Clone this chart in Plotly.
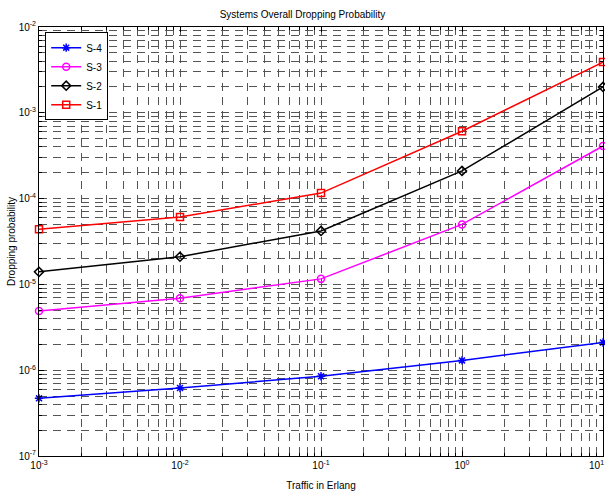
import plotly.graph_objects as go

traffic = [1e-3, 1e-2, 1e-1, 1, 10]
s4 = [4.7e-7, 6.2e-7, 8.5e-7, 1.3e-6, 2.1e-6]
s3 = [4.9e-6, 6.9e-6, 1.16e-5, 5.0e-5, 4.1e-4]
s2 = [1.4e-5, 2.1e-5, 4.2e-5, 2.1e-4, 2.0e-3]
s1 = [4.4e-5, 6.1e-5, 1.16e-4, 6.1e-4, 3.9e-3]

xtick_vals = [1e-3, 1e-2, 1e-1, 1, 10]
xtick_text = ["10<sup>-3</sup>", "10<sup>-2</sup>", "10<sup>-1</sup>", "10<sup>0</sup>", "10<sup>1</sup>"]
ytick_vals = [1e-7, 1e-6, 1e-5, 1e-4, 1e-3, 1e-2]
ytick_text = ["10<sup>-7</sup>", "10<sup>-6</sup>", "10<sup>-5</sup>", "10<sup>-4</sup>", "10<sup>-3</sup>", "10<sup>-2</sup>"]

x_minor = [m * d for d in xtick_vals[:-1] for m in range(2, 10)]
y_minor = [m * d for d in ytick_vals[:-1] for m in range(2, 10)]

series = [
    ("S-4", s4, "#0000ff", "asterisk-open", 7),
    ("S-3", s3, "#ff00ff", "circle-open", 7),
    ("S-2", s2, "#000000", "diamond-open", 7),
    ("S-1", s1, "#ff0000", "square-open", 7),
]

fig = go.Figure()
for name, ys, col, sym, sz in series:
    fig.add_trace(go.Scatter(
        x=traffic, y=ys, name=name, mode="lines+markers",
        line=dict(color=col, width=1.5),
        marker=dict(symbol=sym, size=sz, color=col, line=dict(color=col, width=1.5)),
        cliponaxis=False,
    ))

gridc = "#555555"
dash = "8px,6px"
font = dict(family="Liberation Sans, Arial", size=10, color="black")


def axis_common(minor_vals):
    return dict(
        type="log", showline=True, linecolor="black", linewidth=1, mirror="ticks",
        ticks="inside", ticklen=5, tickcolor="black", automargin=False,
        showgrid=True, gridcolor=gridc, griddash=dash, gridwidth=1,
        tickfont=font, zeroline=False,
        minor=dict(tickmode="array", tickvals=minor_vals, ticks="inside", ticklen=3,
                   tickcolor="black", showgrid=True, gridcolor=gridc, griddash=dash, gridwidth=1),
    )


fig.update_xaxes(**axis_common(x_minor), range=[-3, 1], tickmode="array",
                 tickvals=xtick_vals, ticktext=xtick_text,
                 title=dict(text="Traffic in Erlang", font=font, standoff=12))
fig.update_yaxes(**axis_common(y_minor), range=[-7, -2], tickmode="array",
                 tickvals=ytick_vals, ticktext=ytick_text,
                 title=dict(text="Dropping probability", font=font, standoff=1))

# last x tick label sits at the right edge
fig.add_annotation(x=1, y=0, xref="x", yref="paper", text=xtick_text[-1],
                   showarrow=False, xanchor="right", xshift=3, yanchor="top", yshift=-1,
                   font=font)

fig.update_layout(
    width=605, height=491,
    margin=dict(l=39, r=2, t=27, b=35),
    paper_bgcolor="white", plot_bgcolor="white",
    title=dict(text="Systems Overall Dropping Probability", x=0.5, xanchor="center",
               y=0.97, yanchor="middle", font=font),
    legend=dict(x=0.011, y=0.988, xanchor="left", yanchor="top",
                bgcolor="white", bordercolor="black", borderwidth=1,
                font=font, tracegroupgap=0, itemwidth=30),
    showlegend=True,
)

fig.write_html("out.html", post_script="document.body.style.margin='0';",
               config={"displayModeBar": False})
